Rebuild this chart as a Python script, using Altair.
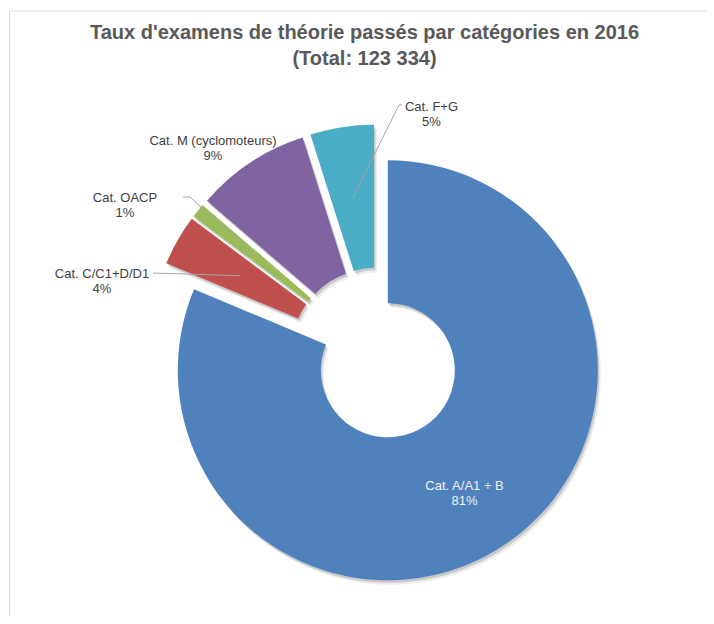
import altair as alt
import pandas as pd

# ---------------- data ----------------
categories = ["Cat. A/A1 + B", "Cat. C/C1+D/D1", "Cat. OACP", "Cat. M (cyclomoteurs)", "Cat. F+G"]
shares = [81.3, 3.9, 1.1, 8.8, 4.9]
pct_labels = ["81%", "4%", "1%", "9%", "5%"]
title_lines = ["Taux d'examens de théorie passés par catégories en 2016", "(Total: 123 334)"]

# ---------------- style / layout ----------------
colors = ["#4F81BD", "#C0504D", "#9BBB59", "#8064A2", "#4BACC6"]
W, H = 698, 608
CX, CY = 369, 346          # pie centre (chart px)
EXPLODE = 19.5             # slice explosion (px)
R_OUT, R_IN = 210, 67
R_MID = (R_OUT + R_IN) / 2
FONT = "Liberation Sans"

# outside label block centres (None -> inside the slice at its centroid)
label_pos = {
    "Cat. A/A1 + B": None,
    "Cat. C/C1+D/D1": (94, 265.5),
    "Cat. OACP": (117, 189.5),
    "Cat. M (cyclomoteurs)": (205, 133),
    "Cat. F+G": (423.5, 98.5),
}
# leader lines: elbow point, then end point
leaders = {
    "Cat. C/C1+D/D1": [(145, 265), None],
    "Cat. OACP": [(182, 189), (175, 189)],
    "Cat. F+G": [(391, 97), (394, 97)],
}

rows = []
for i, (c, s, p, col) in enumerate(zip(categories, shares, pct_labels, colors)):
    lp = label_pos.get(c)
    ld = leaders.get(c, [None, None])
    rows.append({
        "order": i, "category": c, "share": s, "pct": p, "color": col,
        "txt": c + "\n" + p,
        "tcolor": "#F2F2F2" if lp is None else "#404040",
        "lx": None if lp is None else lp[0],
        "ly": None if lp is None else lp[1],
        "ex": None if ld[0] is None else ld[0][0],
        "ey": None if ld[0] is None else ld[0][1],
        "tx": None if ld[1] is None else ld[1][0],
        "ty": None if ld[1] is None else ld[1][1],
    })
df = pd.DataFrame(rows)

base = (
    alt.Chart(df)
    .transform_window(cum="sum(share)", sort=[alt.SortField("order")], frame=[None, 0])
    .transform_joinaggregate(total="sum(share)")
    .transform_calculate(t0="2*PI*(datum.cum - datum.share)/datum.total")
    .transform_calculate(t1="2*PI*datum.cum/datum.total")
    .transform_calculate(mid="(datum.t0 + datum.t1)/2")
    .transform_calculate(px=f"{CX} + {EXPLODE}*sin(datum.mid)")
    .transform_calculate(py=f"{CY} - {EXPLODE}*cos(datum.mid)")
    .transform_calculate(sx=f"datum.px + {R_MID}*sin(datum.mid)")
    .transform_calculate(sy=f"datum.py - {R_MID}*cos(datum.mid)")
    .transform_calculate(shx="datum.px + 1.5", shy="datum.py + 2.5")
    .transform_calculate(shx2="datum.px + 3", shy2="datum.py + 4.5")
)

def arc_layer(xf, yf, **mk):
    return base.mark_arc(outerRadius=R_OUT, innerRadius=R_IN, **mk).encode(
        theta=alt.Theta("t0:Q", scale=None, stack=None),
        theta2=alt.Theta2("t1:Q"),
        x=alt.X(f"{xf}:Q", scale=None, axis=None),
        y=alt.Y(f"{yf}:Q", scale=None, axis=None),
    )

shadow2 = arc_layer("shx2", "shy2", color="#000000", opacity=0.07)
shadow1 = arc_layer("shx", "shy", color="#000000", opacity=0.15)
arcs = arc_layer("px", "py").encode(fill=alt.Fill("color:N", scale=None))

lead1 = base.transform_filter("datum.ex != null").mark_rule(color="#A6A6A6", strokeWidth=1).encode(
    x=alt.X("sx:Q", scale=None, axis=None), y=alt.Y("sy:Q", scale=None, axis=None),
    x2="ex:Q", y2="ey:Q",
)
lead2 = base.transform_filter("datum.tx != null").mark_rule(color="#A6A6A6", strokeWidth=1).encode(
    x=alt.X("ex:Q", scale=None, axis=None), y=alt.Y("ey:Q", scale=None, axis=None),
    x2="tx:Q", y2="ty:Q",
)

labels = (
    base.transform_calculate(
        lxx="datum.lx == null ? datum.sx : datum.lx",
        lyy="datum.ly == null ? datum.sy : datum.ly",
    )
    .mark_text(font=FONT, fontSize=13, lineHeight=15, lineBreak="\n", align="center", baseline="middle")
    .encode(
        x=alt.X("lxx:Q", scale=None, axis=None),
        y=alt.Y("lyy:Q", scale=None, axis=None),
        text="txt:N",
        color=alt.Color("tcolor:N", scale=None),
    )
)

title_df = pd.DataFrame({"line": title_lines, "i": list(range(len(title_lines)))})
title = (
    alt.Chart(title_df)
    .transform_calculate(ty="31 + datum.i*25.5")
    .mark_text(font=FONT, fontSize=20, fontWeight="bold", color="#595959", align="center", baseline="alphabetic")
    .encode(x=alt.value(356.5), y=alt.Y("ty:Q", scale=None, axis=None), text="line:N")
)

frame_df = pd.DataFrame({"a": [0]})
frame_v = alt.Chart(frame_df).mark_rule(color="#D9D9D9", strokeWidth=1).encode(
    x=alt.value(1.5), y=alt.value(3), y2=alt.value(H)
)
frame_h = alt.Chart(frame_df).mark_rule(color="#D9D9D9", strokeWidth=1).encode(
    x=alt.value(1.5), x2=alt.value(W), y=alt.value(3)
)

chart = (
    alt.layer(frame_v, frame_h, shadow2, shadow1, arcs, lead1, lead2, labels, title)
    .properties(width=W, height=H, padding=0, autosize="none", background="white")
    .configure_view(stroke=None)
)

chart.save("out.html", embed_options={"renderer": "svg", "actions": False})
